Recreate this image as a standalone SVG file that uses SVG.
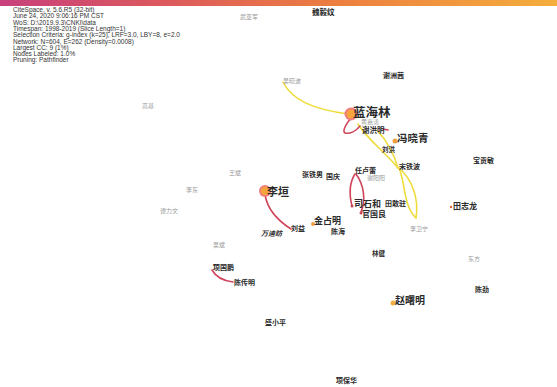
<svg xmlns="http://www.w3.org/2000/svg" width="557" height="387" viewBox="0 0 557 387">
<defs>
<linearGradient id="bar" x1="0" y1="0" x2="1" y2="0">
<stop offset="0" stop-color="#c8407c"/>
<stop offset="0.3" stop-color="#dc5a5c"/>
<stop offset="0.6" stop-color="#ec7e40"/>
<stop offset="1" stop-color="#f4ae3c"/>
</linearGradient>
</defs>
<style>
.info{font-family:"Liberation Sans",Arial,sans-serif;font-size:6.5px;fill:#333}
.lb{font-family:"Noto Sans CJK SC",sans-serif;fill:#2a2a2a;font-weight:bold}
.gr{font-family:"Noto Sans CJK SC",sans-serif;fill:#9a9a9a;font-size:6px}
.ye{fill:none;stroke:#eedc3a;stroke-width:1.6;stroke-linecap:round}
.rd{fill:none;stroke:#d0445a;stroke-width:1.6;stroke-linecap:round}
</style>
<rect width="557" height="387" fill="#ffffff"/>
<rect x="0" y="0" width="557" height="6" fill="url(#bar)"/>
<g id="info">
<text class="info" x="13" y="12">CiteSpace, v. 5.6.R5 (32-bit)</text>
<text class="info" x="13" y="18.3">June 24, 2020 9:06:16 PM CST</text>
<text class="info" x="13" y="24.6">WoS: D:\2019.9.3\CNKI\data</text>
<text class="info" x="13" y="30.9">Timespan: 1998-2019 (Slice Length=1)</text>
<text class="info" x="13" y="37.2">Selection Criteria: g-index (k=25), LRF=3.0, LBY=8, e=2.0</text>
<text class="info" x="13" y="43.5">Network: N=604, E=262 (Density=0.0008)</text>
<text class="info" x="13" y="49.8">Largest CC: 9 (1%)</text>
<text class="info" x="13" y="56.1">Nodes Labeled: 1.0%</text>
<text class="info" x="13" y="62.4">Pruning: Pathfinder</text>
</g>
<g id="connectors">
<path class="ye" d="M283,82 C292,100 312,109 348,114"/>
<path class="ye" d="M358,124 C368,140 385,152 398,168"/>
<path class="ye" d="M377,130 C388,142 394,154 398,168"/>
<path class="ye" d="M399,168 C406,185 403,205 416,218"/>
<path class="ye" d="M399,168 C413,180 419,200 416,218"/>
<path class="rd" d="M351,118 C346,124 342,131 345,133 C350,134 356,131 360,126"/>
<path class="rd" d="M383,129 L388,130"/>
<path class="rd" d="M355,174 C348,185 350,198 352,206"/>
<path class="rd" d="M356,174 C364,185 366,200 361,212"/>
<path class="rd" d="M265,195 C268,212 280,222 291,229"/>
<path class="rd" d="M212,270 C216,277 224,281 233,282"/>
</g>
<g id="n-lanhailin">
<circle cx="351" cy="114" r="6.5" fill="#f07a80"/>
<circle cx="351" cy="114" r="4.5" fill="#f6a43c"/>
<text class="lb" x="353" y="117" font-size="12.5">蓝海林</text>
</g>
<g id="n-liyuan">
<circle cx="265" cy="191" r="6" fill="#f07a80"/>
<circle cx="265" cy="191" r="4.2" fill="#f6a43c"/>
<text class="lb" x="267" y="196" font-size="11">李垣</text>
</g>
<g id="n-fengxiaoqing">
<circle cx="395" cy="141" r="2.5" fill="#f0a040"/>
<text class="lb" x="397" y="142" font-size="10.5">冯晓青</text>
</g>
<g id="n-jinzhanming">
<circle cx="313" cy="224" r="2" fill="#f0a040"/>
<text class="lb" x="314" y="224" font-size="9">金占明</text>
</g>
<g id="n-zhaoshuming">
<circle cx="393" cy="303" r="2.5" fill="#f0b040"/>
<text class="lb" x="395" y="304" font-size="10">赵曙明</text>
</g>
<g id="n-tianzhilong">
<circle cx="451" cy="207" r="1.2" fill="#e0603a"/>
<text class="lb" x="453" y="209" font-size="8">田志龙</text>
</g>
<g id="n-sishihe">
<circle cx="352" cy="206" r="1.5" fill="#d0445a"/>
<text class="lb" x="354" y="207" font-size="9">司石和</text>
</g>
<g id="n-guanguoliang">
<circle cx="361" cy="213" r="1.5" fill="#d0445a"/>
<text class="lb" x="362" y="217" font-size="8">官国良</text>
</g>
<g id="n-tiangan"><text class="lb" x="385" y="206" font-size="7">田敢驻</text></g>
<g id="n-wuyajun"><text class="gr" x="240" y="19">武亚军</text></g>
<g id="n-weiyiwen"><text class="lb" x="312" y="15" font-size="7.5">魏毅纹</text></g>
<g id="n-gaoji"><text class="gr" x="142" y="108">高基</text></g>
<g id="n-wuxiaobo"><text class="gr" x="283" y="83">吴晓波</text></g>
<g id="n-xiezhouqian"><text class="lb" x="383" y="78" font-size="7">谢洲茜</text></g>
<g id="n-huangjiatao"><text class="gr" x="361" y="123.5" font-size="5">黄嘉涛</text></g>
<g id="n-xiehongming"><text class="lb" x="362" y="132.5" font-size="7.5">谢洪明</text></g>
<g id="n-liuhong"><text class="lb" x="382" y="152" font-size="6.5">刘洪</text></g>
<g id="n-songtiebo"><text class="lb" x="399" y="169" font-size="7">宋铁波</text></g>
<g id="n-liweining"><text class="gr" x="410" y="231" font-size="6.5">李卫宁</text></g>
<g id="n-renlulei"><text class="lb" x="355" y="173" font-size="7">任卢蕾</text></g>
<g id="n-xieyangyang"><text class="gr" x="367" y="180">谢阳阳</text></g>
<g id="n-zhangtienan"><text class="lb" x="302" y="177" font-size="7">张铁男</text></g>
<g id="n-guoqing"><text class="lb" x="326" y="179" font-size="7">国庆</text></g>
<g id="n-baogongmin"><text class="lb" x="473" y="163" font-size="7">宝贡敏</text></g>
<g id="n-dongfang"><text class="gr" x="468" y="261">东方</text></g>
<g id="n-chenjin"><text class="lb" x="475" y="292" font-size="7">陈劲</text></g>
<g id="n-linjian"><text class="lb" x="372" y="256" font-size="6.5">林健</text></g>
<g id="n-shengxiaoping"><text class="lb" x="265" y="325" font-size="7">盛小平</text></g>
<g id="n-xiangbaohua"><text class="lb" x="336" y="383" font-size="7">项保华</text></g>
<g id="n-xiangguopeng"><text class="lb" x="213" y="270" font-size="7">项国鹏</text></g>
<g id="n-chenchuanming"><text class="lb" x="234" y="285" font-size="7">陈传明</text></g>
<g id="n-wubin"><text class="gr" x="213" y="247">吴斌</text></g>
<g id="n-wandifang"><text class="lb" x="261" y="236" font-size="7" font-style="italic">万迪昉</text></g>
<g id="n-liuyi"><text class="lb" x="291" y="231" font-size="7">刘益</text></g>
<g id="n-chenhai"><text class="lb" x="331" y="234" font-size="7">陈海</text></g>
<g id="n-wangbin"><text class="gr" x="229" y="175">王斌</text></g>
<g id="n-lidong"><text class="gr" x="186" y="192">李东</text></g>
<g id="n-tanliwen"><text class="gr" x="160" y="213">谭力文</text></g>
</svg>
